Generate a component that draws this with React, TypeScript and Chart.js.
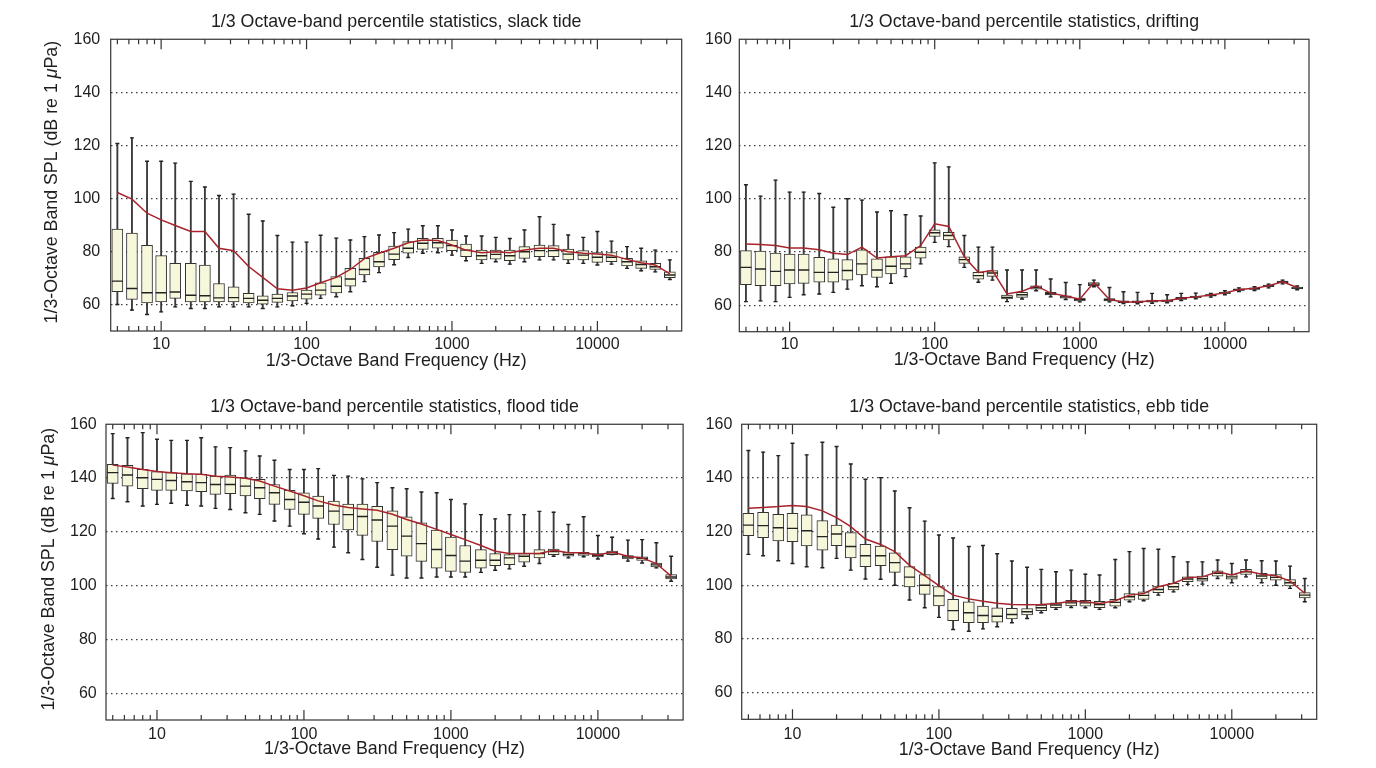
import React, { useEffect, useRef } from "react";
import { Chart, registerables } from "chart.js";

Chart.register(...registerables);

// 1/3-octave band centre frequencies (Hz)
const bands = [5, 6.3, 8, 10, 12.5, 16, 20, 25, 31.5, 40, 50, 63, 80, 100, 125, 160, 200, 250, 315, 400, 500, 630, 800, 1000, 1250, 1600, 2000, 2500, 3150, 4000, 5000, 6300, 8000, 10000, 12500, 16000, 20000, 25000, 31500];

// ---- slack tide ----
const slackMax = [120.7, 122.8, 114, 114, 113.3, 106.4, 104.3, 101.1, 101.6, 94, 91.5, 86, 83.5, 83.5, 86.1, 85, 84.3, 85.6, 86.2, 87.1, 88.4, 89.7, 89.7, 88.1, 85.8, 85.8, 85.3, 84.9, 88.1, 93.1, 90.2, 86.2, 85.3, 87.5, 83.9, 81.8, 81.2, 80.5, 76.8];
const slackQ3 = [88.4, 86.9, 82.3, 78.4, 75.5, 75.5, 74.9, 67.9, 66.7, 64.2, 63.3, 63.9, 64.5, 65.4, 68.2, 70.5, 73.6, 77.4, 79.7, 82.0, 83.7, 84.9, 84.9, 84.3, 82.8, 80.5, 80.5, 80.5, 81.8, 82.4, 82.2, 80.9, 80.3, 79.6, 79.6, 77.4, 76.5, 75.5, 72.3];
const slackMed = [68.8, 66.0, 64.4, 64.4, 64.7, 63.5, 63.3, 62.5, 62.6, 62.3, 61.6, 62.3, 63.2, 63.9, 65.4, 66.9, 69.6, 73.2, 76.1, 79.0, 81.2, 83.1, 83.3, 82.2, 80.5, 78.4, 78.9, 78.4, 79.9, 80.3, 80.3, 79.0, 78.6, 77.8, 77.8, 76.1, 75.1, 74.2, 71.1];
const slackQ1 = [64.8, 61.9, 60.6, 61.0, 62.3, 61.0, 61.0, 61.0, 61.0, 60.6, 60.1, 60.8, 61.3, 62.0, 63.5, 64.4, 66.9, 71.1, 74.2, 76.9, 79.3, 80.8, 81.2, 80.3, 78.0, 76.8, 77.1, 76.5, 77.4, 78.0, 78.0, 76.8, 76.8, 75.9, 76.1, 74.5, 73.6, 73.2, 70.1];
const slackMin = [60.0, 57.9, 56.2, 57.2, 59.1, 58.5, 58.5, 59.1, 59.1, 59.1, 58.5, 59.1, 59.5, 60.4, 62.3, 62.9, 64.8, 68.6, 72.0, 75.0, 77.7, 79.3, 79.5, 78.6, 76.5, 75.5, 76.1, 75.2, 76.1, 76.8, 76.8, 75.5, 75.5, 74.9, 75.2, 73.6, 72.7, 72.3, 69.4];
const slackMean = [102.2, 99.7, 94.4, 91.9, 89.8, 87.5, 87.5, 81.2, 80.3, 74.3, 70.2, 65.9, 65.4, 66.2, 68.2, 70.2, 73.2, 77.3, 79.3, 81.2, 83.3, 84.3, 84.1, 82.4, 80.5, 79.5, 79.9, 79.5, 80.5, 81.2, 81.2, 79.9, 79.3, 79.0, 78.6, 77.0, 75.7, 74.9, 71.5];

// ---- drifting ----
const driftMax = [105.3, 101, 107, 102.5, 102.5, 102, 96.8, 100, 99.5, 95, 95.5, 94, 93.5, 113.5, 112, 86.2, 81.8, 81.8, 73.2, 73.2, 73.2, 69.8, 68.5, 67.7, 69.4, 66.6, 65.0, 64.8, 64.4, 63.9, 64.4, 64.5, 64.4, 65.4, 66.5, 66.9, 67.9, 69.4, 67.2];
const driftQ3 = [80.5, 80.3, 79.6, 79.2, 79.2, 78.0, 77.4, 77.1, 80.8, 77.4, 78.2, 78.2, 81.8, 88.3, 87.4, 78.2, 72.3, 73.0, 63.8, 64.8, 67.3, 64.8, 63.5, 62.6, 68.5, 62.5, 61.6, 61.6, 61.9, 62.0, 62.9, 63.4, 64.0, 64.9, 66.1, 66.5, 67.5, 69.0, 66.8];
const driftMed = [74.2, 73.6, 72.7, 73.2, 73.2, 72.3, 72.3, 73.0, 75.5, 73.2, 74.6, 75.5, 79.9, 87.2, 86.2, 77.1, 71.1, 72.1, 62.9, 63.9, 66.6, 64.3, 63.1, 62.1, 67.9, 62.0, 61.2, 61.2, 61.5, 61.6, 62.5, 63.1, 63.7, 64.6, 65.8, 66.2, 67.2, 68.7, 66.4];
const driftQ1 = [67.7, 67.3, 67.3, 68.0, 68.2, 68.6, 68.6, 69.4, 71.4, 70.4, 71.7, 73.6, 77.7, 85.8, 84.5, 75.7, 69.8, 70.8, 62.3, 62.9, 66.0, 63.8, 62.6, 61.6, 67.3, 61.6, 60.9, 60.9, 61.1, 61.2, 62.1, 62.8, 63.4, 64.3, 65.5, 65.9, 66.9, 68.4, 66.1];
const driftMin = [61.3, 61.6, 61.3, 62.9, 63.9, 64.2, 64.8, 66.0, 67.3, 66.9, 68.2, 70.7, 75.5, 83.6, 82.0, 74.2, 68.6, 69.4, 61.3, 62.3, 65.4, 63.1, 62.1, 61.2, 66.9, 61.2, 60.6, 60.5, 60.7, 60.9, 61.7, 62.4, 63.0, 63.9, 65.1, 65.5, 66.5, 68.0, 65.8];
const driftMean = [83.0, 82.8, 82.4, 81.5, 81.5, 80.8, 79.5, 79.0, 81.8, 77.7, 78.2, 78.6, 82.4, 90.6, 89.6, 78.2, 72.3, 73.0, 64.2, 65.2, 67.3, 64.5, 63.4, 62.2, 68.5, 62.1, 61.2, 61.2, 61.6, 61.6, 62.6, 63.1, 63.8, 64.6, 65.9, 66.3, 67.3, 68.8, 66.6];

// ---- flood tide ----
const floodMax = [156.5, 155.0, 156.9, 154.4, 154.0, 154.0, 155.0, 151.6, 151.3, 150.1, 148.2, 146.6, 143.2, 143.2, 143.5, 141.0, 140.7, 139.7, 138.3, 136.4, 136.0, 134.8, 134.5, 132.0, 130.4, 126.4, 124.8, 126.4, 126.4, 127.6, 127.3, 122.7, 125.6, 118.6, 118.0, 116.9, 117.1, 115.9, 110.9];
const floodQ3 = [145.1, 144.7, 143.2, 142.4, 142.0, 141.6, 141.4, 140.7, 141.1, 140.1, 139.5, 137.6, 135.4, 134.5, 133.3, 131.4, 130.3, 130.3, 129.5, 127.8, 125.6, 123.3, 120.6, 118.0, 114.9, 113.4, 111.9, 111.5, 111.9, 113.4, 113.6, 112.4, 112.4, 111.9, 112.8, 111.2, 110.7, 108.4, 104.1];
const floodMed = [142.0, 141.1, 140.1, 139.5, 139.1, 138.6, 138.3, 137.6, 137.6, 137.0, 136.4, 134.5, 132.0, 131.0, 129.6, 127.7, 126.4, 125.7, 124.4, 122.1, 118.4, 115.6, 113.4, 111.2, 109.1, 109.4, 109.4, 110.3, 110.9, 111.9, 112.7, 111.6, 111.9, 111.3, 112.2, 110.6, 110.1, 107.7, 103.2];
const floodQ1 = [138.0, 137.0, 136.0, 135.4, 135.4, 135.2, 134.9, 133.9, 134.2, 133.3, 132.3, 130.2, 128.3, 126.5, 125.0, 122.7, 120.7, 118.7, 116.4, 113.4, 110.9, 109.0, 106.5, 105.3, 104.9, 106.5, 107.4, 107.8, 108.7, 110.3, 111.5, 110.9, 111.2, 110.7, 111.5, 109.9, 109.4, 106.9, 102.5];
const floodMin = [132.4, 131.2, 129.6, 130.2, 130.6, 129.9, 129.6, 128.7, 128.3, 127.1, 126.5, 124.0, 122.1, 119.3, 117.3, 114.3, 112.2, 109.7, 106.8, 103.9, 102.8, 102.8, 103.2, 103.2, 103.2, 104.9, 105.7, 106.2, 107.2, 108.2, 110.9, 110.3, 110.7, 109.9, 111.5, 109.1, 108.4, 106.6, 101.6];
const floodMean = [144.8, 144.1, 143.2, 142.4, 142.0, 141.6, 141.4, 140.7, 140.4, 139.9, 138.9, 137.0, 135.2, 133.4, 131.5, 130.0, 129.0, 128.5, 128.0, 126.5, 124.6, 122.9, 120.9, 119.0, 117.1, 114.9, 112.8, 111.9, 111.9, 111.9, 113.1, 112.2, 112.2, 111.4, 112.5, 110.9, 110.3, 108.2, 103.5];

// ---- ebb tide ----
const ebbMax = [150.2, 149.6, 148.3, 152.9, 148.6, 153.3, 151.7, 145.2, 139.5, 140.1, 135.1, 128.9, 123.9, 118.7, 117.6, 114.4, 114.8, 111.7, 109.0, 106.7, 105.9, 105.0, 105.6, 104.1, 103.8, 109.6, 112.5, 113.7, 113.4, 110.6, 108.7, 108.7, 109.4, 108.1, 109.4, 109.1, 109.0, 107.1, 102.5];
const ebbQ3 = [126.8, 127.2, 126.4, 126.8, 126.2, 124.1, 122.4, 119.6, 115.2, 114.6, 112.1, 106.9, 104.0, 99.5, 94.7, 93.8, 92.2, 91.6, 91.4, 91.3, 92.6, 93.4, 94.4, 94.4, 94.0, 94.7, 96.9, 97.5, 99.7, 100.7, 103.1, 103.4, 105.4, 104.0, 105.9, 104.4, 104.0, 102.1, 97.2];
const ebbMed = [122.4, 122.2, 121.4, 121.2, 120.3, 118.1, 119.1, 114.4, 111.0, 111.0, 108.4, 103.0, 100.0, 96.0, 90.5, 89.7, 88.7, 88.4, 89.1, 90.1, 91.6, 92.6, 93.4, 93.4, 92.8, 93.6, 95.7, 96.2, 98.4, 99.4, 102.3, 102.4, 104.4, 103.1, 105.0, 103.4, 102.9, 100.9, 96.3];
const ebbQ1 = [118.5, 117.7, 116.5, 116.2, 114.6, 113.1, 114.7, 110.2, 106.9, 107.3, 104.8, 99.4, 96.6, 92.3, 86.8, 86.0, 86.0, 86.2, 87.4, 88.9, 90.5, 91.6, 92.3, 92.2, 91.6, 92.2, 94.4, 94.7, 97.2, 98.2, 101.3, 101.5, 103.4, 102.2, 104.0, 102.3, 101.9, 99.7, 95.3];
const ebbMin = [111.5, 111.0, 109.1, 108.1, 106.9, 106.5, 110.0, 105.6, 102.3, 102.2, 100.0, 94.5, 91.6, 88.0, 83.5, 82.8, 83.7, 84.5, 86.0, 87.6, 89.7, 91.0, 91.7, 91.6, 91.0, 91.6, 93.8, 94.2, 96.3, 97.5, 100.3, 100.4, 102.5, 100.9, 103.1, 100.9, 100.0, 98.8, 93.8];
const ebbMean = [128.7, 129.0, 129.3, 129.7, 129.3, 127.7, 125.2, 121.8, 117.2, 115.2, 112.5, 107.4, 103.6, 99.8, 96.3, 94.9, 94.0, 93.3, 92.8, 92.7, 92.8, 93.2, 94.0, 93.8, 93.2, 94.2, 96.3, 96.9, 99.4, 100.7, 102.9, 103.1, 105.0, 103.8, 105.4, 104.1, 103.5, 101.5, 97.0];

// axis ticks
const yTickValues = [60, 80, 100, 120, 140, 160];
const xLabelValues = [10, 100, 1000, 10000];
const X_MIN = 4.5;
const X_MAX = 38000;
const xTickValues: number[] = [];
for (let e = 0; e <= 4; e++) {
  for (let m = 1; m <= 9; m++) {
    const v = m * Math.pow(10, e);
    if (v >= X_MIN && v <= X_MAX) xTickValues.push(v);
  }
}

// y-axis title pieces (the micro sign is set in italics, as in the original)
const yTitleParts: { text: string; italic: boolean }[] = [
  { text: "1/3-Octave Band SPL (dB re 1 ", italic: false },
  { text: "\u03bc", italic: true },
  { text: "Pa)", italic: false },
];

const FONT_FAMILY = "'Liberation Sans', Arial, Helvetica, sans-serif";
const TEXT = "#1e1e1e";
const EDGE = "#333333";
const BOX_FILL = "#f7f7dc";
const MEAN_RED = "#a8242c";
const TICK_SIZE = 16;
const LABEL_SIZE = 17.8;

type PanelSpec = {
  title: string;
  showYTitle: boolean;
  min: number[]; q1: number[]; med: number[]; q3: number[]; max: number[]; mean: number[];
  left: number; top: number; width: number; height: number;
  yAxisW: number; xAxisH: number; padRight: number;
  titlePadTop: number; titlePadBottom: number;
  yTickPad: number; xTickPad: number; xTitlePadBottom: number; yTitleX: number;
};

const panels: PanelSpec[] = [
  {
    title: "1/3 Octave-band percentile statistics, slack tide", showYTitle: true,
    min: slackMin, q1: slackQ1, med: slackMed, q3: slackQ3, max: slackMax, mean: slackMean,
    left: 0, top: 0, width: 690, height: 380,
    yAxisW: 110.7, xAxisH: 49, padRight: 8.3, titlePadTop: 11.3, titlePadBottom: 6.6,
    yTickPad: 10.5, xTickPad: 3.6, xTitlePadBottom: 8.5, yTitleX: 52,
  },
  {
    title: "1/3 Octave-band percentile statistics, drifting", showYTitle: false,
    min: driftMin, q1: driftQ1, med: driftMed, q3: driftQ3, max: driftMax, mean: driftMean,
    left: 690, top: 0, width: 686, height: 380,
    yAxisW: 49.3, xAxisH: 48.3, padRight: 67, titlePadTop: 11.3, titlePadBottom: 6.6,
    yTickPad: 7.5, xTickPad: 3, xTitlePadBottom: 8.9, yTitleX: 0,
  },
  {
    title: "1/3 Octave-band percentile statistics, flood tide", showYTitle: true,
    min: floodMin, q1: floodQ1, med: floodMed, q3: floodQ3, max: floodMax, mean: floodMean,
    left: 0, top: 385, width: 690, height: 383,
    yAxisW: 106, xAxisH: 48, padRight: 6, titlePadTop: 11.8, titlePadBottom: 6.1,
    yTickPad: 9.3, xTickPad: 4.6, xTitlePadBottom: 8.3, yTitleX: 49,
  },
  {
    title: "1/3 Octave-band percentile statistics, ebb tide", showYTitle: false,
    min: ebbMin, q1: ebbQ1, med: ebbMed, q3: ebbQ3, max: ebbMax, mean: ebbMean,
    left: 690, top: 385, width: 686, height: 383,
    yAxisW: 51.7, xAxisH: 48.7, padRight: 59.3, titlePadTop: 11.8, titlePadBottom: 6.1,
    yTickPad: 9.4, xTickPad: 5.2, xTitlePadBottom: 7.5, yTitleX: 0,
  },
];

const framePlugin = {
  id: "frameTicks",
  afterDraw(chart: any) {
    const { ctx, chartArea: a } = chart;
    const x = chart.scales.x;
    ctx.save();
    ctx.strokeStyle = EDGE;
    ctx.lineWidth = 1.2;
    ctx.strokeRect(a.left, a.top, a.right - a.left, a.bottom - a.top);
    ctx.beginPath();
    for (const v of xTickValues) {
      const px = x.getPixelForValue(v);
      const len = xLabelValues.includes(v) ? 10 : 5;
      ctx.moveTo(px, a.bottom);
      ctx.lineTo(px, a.bottom - len);
      ctx.moveTo(px, a.top);
      ctx.lineTo(px, a.top + len);
    }
    ctx.stroke();

    // rotated y-axis title with an italic micro sign
    const opts = chart.options.plugins.yTitle;
    if (opts && opts.display) {
      const fontFor = (it: boolean) => `${it ? "italic " : ""}${LABEL_SIZE}px ${FONT_FAMILY}`;
      let total = 0;
      const widths = yTitleParts.map((p) => {
        ctx.font = fontFor(p.italic);
        const w = ctx.measureText(p.text).width;
        total += w;
        return w;
      });
      ctx.translate(opts.x, (a.top + a.bottom) / 2 - 3);
      ctx.rotate(-Math.PI / 2);
      ctx.fillStyle = TEXT;
      ctx.textBaseline = "middle";
      ctx.textAlign = "left";
      let cx = -total / 2;
      yTitleParts.forEach((p, i) => {
        ctx.font = fontFor(p.italic);
        ctx.fillText(p.text, cx, 0);
        cx += widths[i];
      });
    }
    ctx.restore();
  },
};

function BoxPanel({ spec }: { spec: PanelSpec }) {
  const ref = useRef<HTMLCanvasElement | null>(null);
  useEffect(() => {
    if (!ref.current) return;
    const tickFont = { family: FONT_FAMILY, size: TICK_SIZE, weight: "normal" as const };
    const labelFont = { family: FONT_FAMILY, size: LABEL_SIZE, weight: "normal" as const };
    const whiskers = bands.map((f, i) => ({ x: f, y: [spec.min[i], spec.max[i]] }));
    const boxes = bands.map((f, i) => ({ x: f, y: [spec.q1[i], spec.q3[i]] }));
    const caps = bands.flatMap((f, i) => [{ x: f, y: spec.min[i] }, { x: f, y: spec.max[i] }]);
    const medians = bands.map((f, i) => ({ x: f, y: spec.med[i] }));
    const means = bands.map((f, i) => ({ x: f, y: spec.mean[i] }));

    const chart = new Chart(ref.current, {
      type: "bar",
      data: {
        datasets: [
          {
            type: "line", data: means, borderColor: MEAN_RED, borderWidth: 1.5,
            pointRadius: 0, tension: 0, order: 0,
          } as any,
          {
            type: "line", data: medians, showLine: false, pointStyle: "line",
            pointRadius: 5.5, pointBorderWidth: 1.4, pointBorderColor: "#222", borderColor: "#222", order: 1,
          } as any,
          {
            type: "line", data: caps, showLine: false, pointStyle: "line",
            pointRadius: 2, pointBorderWidth: 1.4, pointBorderColor: "#222", borderColor: "#222", order: 2,
          } as any,
          {
            type: "bar", data: boxes, backgroundColor: BOX_FILL, borderColor: EDGE,
            borderWidth: 1, borderSkipped: false, barThickness: 11, grouped: false, order: 3,
          } as any,
          {
            type: "bar", data: whiskers, backgroundColor: "#3a3a3a",
            borderWidth: 0, barThickness: 1.2, grouped: false, order: 4,
          } as any,
        ],
      },
      options: {
        responsive: false,
        maintainAspectRatio: false,
        animation: false,
        events: [],
        layout: { padding: { left: 0, right: spec.padRight, top: 0, bottom: 0 } },
        plugins: {
          legend: { display: false },
          tooltip: { enabled: false },
          yTitle: { display: spec.showYTitle, x: spec.yTitleX },
          title: {
            display: true, text: spec.title, color: TEXT, font: labelFont, fullSize: false,
            padding: { top: spec.titlePadTop, bottom: spec.titlePadBottom },
          },
        },
        scales: {
          x: {
            type: "logarithmic", min: X_MIN, max: X_MAX, offset: false,
            afterBuildTicks: (axis: any) => { axis.ticks = xTickValues.map((v) => ({ value: v })); },
            afterFit: (axis: any) => { axis.height = spec.xAxisH; },
            grid: { display: false, drawTicks: false, offset: false },
            border: { display: false },
            ticks: {
              autoSkip: false, maxRotation: 0, minRotation: 0, padding: spec.xTickPad, color: TEXT, font: tickFont,
              callback: (v: any) => (xLabelValues.includes(Number(v)) ? String(v) : ""),
            },
            title: {
              display: true, text: "1/3-Octave Band Frequency (Hz)", color: TEXT, font: labelFont,
              padding: { top: 0, bottom: spec.xTitlePadBottom },
            },
          },
          y: {
            type: "linear", min: 50, max: 160,
            afterBuildTicks: (axis: any) => { axis.ticks = yTickValues.map((v) => ({ value: v })); },
            afterFit: (axis: any) => { axis.width = spec.yAxisW; },
            grid: {
              drawTicks: false, lineWidth: 1.2,
              color: (c: any) => (c.tick && c.tick.value >= 160 ? "rgba(0,0,0,0)" : "#3c3c3c"),
            },
            border: { display: false, dash: [1.5, 3.5] },
            ticks: { padding: spec.yTickPad, color: TEXT, font: tickFont },
            title: { display: false },
          },
        },
      } as any,
      plugins: [framePlugin],
    });
    return () => chart.destroy();
  }, [spec]);

  return (
    <canvas
      ref={ref}
      width={spec.width}
      height={spec.height}
      style={{ position: "absolute", left: spec.left, top: spec.top, width: spec.width, height: spec.height }}
    />
  );
}

export default function App() {
  return (
    <div style={{ position: "absolute", left: 0, top: 0, width: 1376, height: 768, background: "#ffffff", overflow: "hidden" }}>
      {panels.map((p) => (
        <BoxPanel key={p.title} spec={p} />
      ))}
    </div>
  );
}
